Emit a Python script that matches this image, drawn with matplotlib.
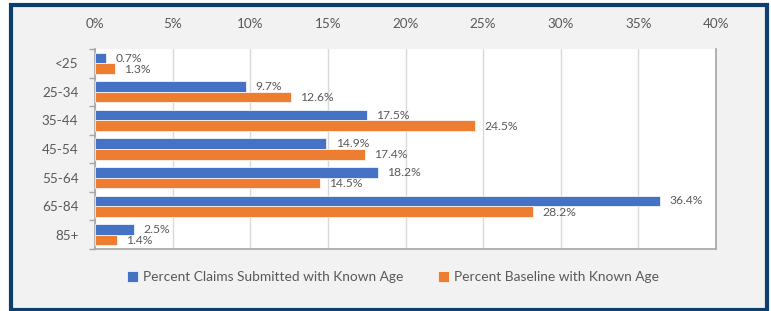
import matplotlib
matplotlib.use("Agg")
import matplotlib.pyplot as plt
from matplotlib.patches import Rectangle
import numpy as np

categories = ["<25", "25-34", "35-44", "45-54", "55-64", "65-84", "85+"]
claims = [0.7, 9.7, 17.5, 14.9, 18.2, 36.4, 2.5]
baseline = [1.3, 12.6, 24.5, 17.4, 14.5, 28.2, 1.4]
series_names = ["Percent Claims Submitted with Known Age", "Percent Baseline with Known Age"]
xticks = [0, 5, 10, 15, 20, 25, 30, 35, 40]

plt.rcParams['font.family'] = ['Lato', 'DejaVu Sans']
W, H = 771, 311
fig = plt.figure(figsize=(W / 100, H / 100), dpi=100)
fig.patch.set_facecolor('white')

# background panel with dark blue border
bg = Rectangle((11 / W, 1 - 309.5 / H), (767 - 11) / W, (309.5 - 5.3) / H,
               transform=fig.transFigure, facecolor='#f2f2f2',
               edgecolor='#0d3f6e', linewidth=3.0, zorder=-10)
fig.add_artist(bg)

ax = fig.add_axes([95 / W, 1 - 249 / H, (716 - 95) / W, (249 - 49) / H])
ax.set_zorder(5)
ax.set_facecolor('white')

blue = '#4472C4'
orange = '#ED7D31'
text_col = '#595959'

y = np.arange(len(categories))
h = 0.37
ax.barh(y - h / 2, claims, height=h, color=blue, edgecolor='white', linewidth=0.5, zorder=3, label=series_names[0])
ax.barh(y + h / 2, baseline, height=h, color=orange, edgecolor='white', linewidth=0.5, zorder=3, label=series_names[1])

for yi, v in zip(y, claims):
    ax.text(v + 0.6, yi - h / 2, f"{v:.1f}%", va='center', ha='left', fontsize=8.7, color=text_col, zorder=4)
for yi, v in zip(y, baseline):
    ax.text(v + 0.6, yi + h / 2 + 0.02, f"{v:.1f}%", va='center', ha='left', fontsize=8.7, color=text_col, zorder=4)

ax.set_xlim(0, 40)
ax.set_ylim(len(categories) - 0.5, -0.5)
ax.set_xticks(xticks)
ax.set_xticklabels([f"{t}%" for t in xticks])
ax.xaxis.tick_top()
ax.tick_params(axis='x', length=0, pad=14, labelsize=9.7, labelcolor=text_col)
ax.set_yticks(y)
ax.set_yticklabels(categories)
ax.tick_params(axis='y', length=0, pad=12, labelsize=9.7, labelcolor=text_col)
ax.set_yticks(np.arange(len(categories) + 1) - 0.5, minor=True)
ax.tick_params(axis='y', which='minor', length=4, color='#a6a6a6', width=1)
ax.grid(axis='x', color='#d9d9d9', linewidth=1, zorder=0)
for s in ['left', 'bottom', 'right']:
    ax.spines[s].set_color('#a6a6a6')
    ax.spines[s].set_linewidth(1.2)
ax.spines['top'].set_visible(False)

leg = fig.legend(loc='center', bbox_to_anchor=(0.51, 1 - 277 / H), ncol=2, frameon=False,
                 fontsize=9.9, handlelength=0.8, handleheight=0.8, handletextpad=0.35,
                 columnspacing=2.55, labelcolor=text_col)

fig.savefig('out.png', dpi=100, facecolor='white')
